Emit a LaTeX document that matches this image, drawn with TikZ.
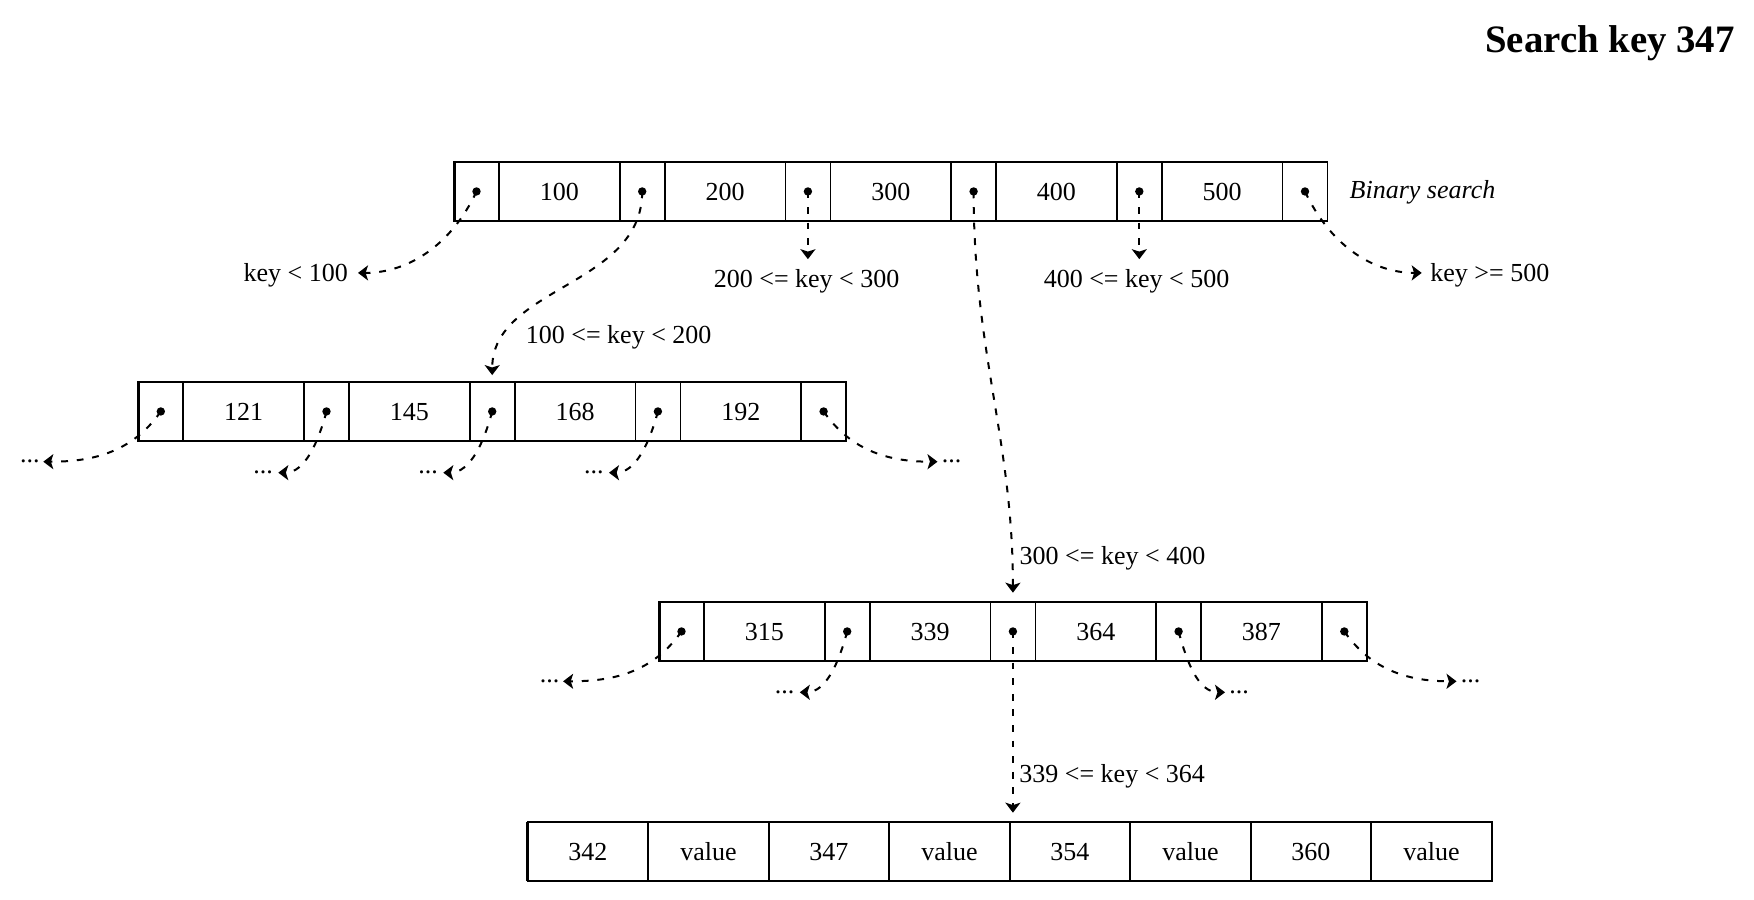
\documentclass[tikz,border=0pt]{standalone}
\usepackage{fontspec}
\setmainfont{Liberation Serif}
\usetikzlibrary{arrows.meta}
\newcommand\fsz{\fontsize{13pt}{15pt}\selectfont}
\newcommand\btrow[5]{%
  \foreach \k [count=\i from 0] in {#4}{
    \node[ptrcell] (#1-p\i) at ({#2+\i*165.7},{-#3}) {};
    \node[keycell] (#1-k\i) at ({#2+45+\i*165.7},{-#3}) {\k};
  }
  \node[ptrcell] (#1-p#5) at ({#2+#5*165.7},{-#3}) {};
  \draw[line width=1.5pt] (#1-p0.north west) -- (#1-p0.south west);
}
\tikzset{
  cell/.style={draw, line width=0.9pt, inner sep=0pt, outer sep=0pt,
    minimum height=29.75pt, anchor=north west, text height=8.8pt,
    text depth=0pt, font=\fsz},
  ptrcell/.style={cell, minimum width=22.5pt},
  keycell/.style={cell, minimum width=60.35pt},
  leafcell/.style={cell, minimum width=60.25pt},
  lbl/.style={inner sep=0pt, text height=8.8pt, text depth=0pt, font=\fsz},
  ell/.style={inner sep=0pt, font=\fsz},
  conn/.style={dash pattern=on 3.4pt off 4.4pt, line width=1pt,
    -{Stealth[length=5pt,width=7.5pt,inset=1.2pt]}}
}
\begin{document}
\begin{tikzpicture}[x=0.5pt,y=0.5pt]
\useasboundingbox (0,0) rectangle (1754,-899);

% title and note
\node[anchor=base east, inner sep=0pt, font=\fontsize{19.4pt}{23pt}\selectfont\bfseries] (title) at (1735,-52.3) {Search key 347};
\node[anchor=base west, inner sep=0pt, font=\fsz\itshape] (bs) at (1349.3,-198.3) {Binary search};

% rows
\btrow{t}{454}{161.7}{100,200,300,400,500}{5}
\btrow{m}{138.3}{381.7}{121,145,168,192}{4}
\btrow{b}{659}{601.7}{315,339,364,387}{4}
\foreach \k [count=\i from 0] in {342,value,347,value,354,value,360,value}
  \node[leafcell] (l-c\i) at ({527.7+\i*120.5},-821.7) {\k};
\draw[line width=1.5pt] (l-c0.north west) -- (l-c0.south west);

% pointer dots
\foreach \r/\n in {t/5,m/4,b/4}
  \foreach \i in {0,...,\n}
    \fill (\r-p\i.center) circle (2.1pt);

% labels
\node[lbl, anchor=east] (l1) at (348.3,-272.9) {key < 100};
\node[lbl] (l3) at (806.6,-278.4) {200 <= key < 300};
\node[lbl, anchor=west] (l4) at (525.5,-334.3) {100 <= key < 200};
\node[lbl] (l5) at (1136.5,-278.4) {400 <= key < 500};
\node[lbl, anchor=west] (l6) at (1430,-272.9) {key >= 500};
\node[lbl, anchor=west] (l7) at (1019.3,-555.8) {300 <= key < 400};
\node[lbl, anchor=west] (l8) at (1019,-773.6) {339 <= key < 364};

% ellipsis ends
\node[ell, anchor=east] (d20) at (40,-461.7) {...};
\node[ell, anchor=east] (d21) at (273.3,-472.7) {...};
\node[ell, anchor=east] (d22) at (438.3,-472.7) {...};
\node[ell, anchor=east] (d23) at (604,-472.7) {...};
\node[ell, anchor=west] (d24) at (941.5,-461.7) {...};
\node[ell, anchor=east] (d30) at (559.8,-681.3) {...};
\node[ell, anchor=east] (d31) at (794.8,-692.3) {...};
\node[ell, anchor=west] (d33) at (1229,-692.3) {...};
\node[ell, anchor=west] (d34) at (1460.5,-681.3) {...};

% connectors, top row
\draw[conn, shorten >=4.85pt] (t-p0.center) to[out=245,in=0] (l1.east);
\draw[conn, shorten >=3.3pt] (t-p1.center) to[out=-90,in=90] (m-p2.north);
\draw[conn, shorten >=5pt] (t-p2.center) -- (t-p2.center |- l3.north);
\draw[conn, shorten >=4.5pt] (t-p3.center) to[out=-90,in=90] (b-p2.north);
\draw[conn, shorten >=5pt] (t-p4.center) -- (t-p4.center |- l5.north);
\draw[conn, shorten >=4.15pt] (t-p5.center) to[out=-65,in=180] (l6.west);

% connectors, middle row
\draw[conn, shorten >=1.65pt] (m-p0.center) to[out=235,in=0] (d20.east);
\draw[conn, shorten >=2.5pt] (m-p1.center) to[out=255,in=0] (d21.east);
\draw[conn, shorten >=2.5pt] (m-p2.center) to[out=255,in=0] (d22.east);
\draw[conn, shorten >=2.5pt] (m-p3.center) to[out=255,in=0] (d23.east);
\draw[conn, shorten >=2pt] (m-p4.center) to[out=-55,in=180] (d24.west);

% connectors, lower row
\draw[conn, shorten >=1.65pt] (b-p0.center) to[out=235,in=0] (d30.east);
\draw[conn, shorten >=2.5pt] (b-p1.center) to[out=255,in=0] (d31.east);
\draw[conn, shorten >=4.5pt] (b-p2.center) -- (b-p2.center |- l-c4.north);
\draw[conn, shorten >=2pt] (b-p3.center) to[out=-75,in=180] (d33.west);
\draw[conn, shorten >=2pt] (b-p4.center) to[out=-55,in=180] (d34.west);
\end{tikzpicture}
\end{document}
